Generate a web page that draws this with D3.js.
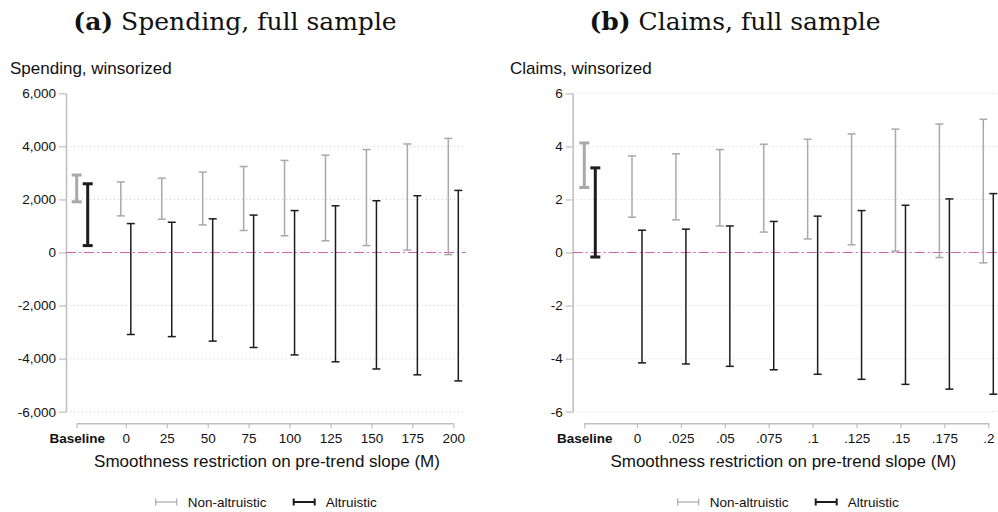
<!DOCTYPE html>
<html>
<head>
<meta charset="utf-8">
<script src="https://cdn.jsdelivr.net/npm/d3@7"></script>
<style>
  html, body { margin: 0; padding: 0; background: #fff; }
  svg { display: block; }
  .sans { font-family: "Liberation Sans", Arial, Helvetica, sans-serif; }
</style>
</head>
<body>
<svg id="chart" width="998" height="512"></svg>
<script>
// ---- Data -------------------------------------------------------------
// Category labels along the x axis (first entry is the baseline estimate)
const spendingTickLabels = ["Baseline", "0", "25", "50", "75", "100", "125", "150", "175", "200"];
const spendingM = [-30, 0, 25, 50, 75, 100, 125, 150, 175, 200];
const spendingYTicks = [-6000, -4000, -2000, 0, 2000, 4000, 6000];

// Confidence-set bounds, spending
const spendingNonAltLo = [1910, 1380, 1255, 1040, 830, 630, 440, 260, 90, -80];
const spendingNonAltHi = [2920, 2660, 2800, 3030, 3240, 3470, 3670, 3880, 4090, 4300];
const spendingAltLo = [260, -3090, -3170, -3340, -3580, -3860, -4120, -4390, -4610, -4840];
const spendingAltHi = [2590, 1090, 1140, 1270, 1410, 1580, 1760, 1950, 2140, 2340];

const claimsTickLabels = ["Baseline", "0", ".025", ".05", ".075", ".1", ".125", ".15", ".175", ".2"];
const claimsM = [-0.03, 0, 0.025, 0.05, 0.075, 0.1, 0.125, 0.15, 0.175, 0.2];
const claimsYTicks = [-6, -4, -2, 0, 2, 4, 6];

// Confidence-set bounds, claims
const claimsNonAltLo = [2.45, 1.33, 1.23, 1.00, 0.77, 0.51, 0.29, 0.05, -0.19, -0.39];
const claimsNonAltHi = [4.13, 3.64, 3.72, 3.88, 4.08, 4.27, 4.47, 4.65, 4.84, 5.02];
const claimsAltLo = [-0.17, -4.16, -4.20, -4.29, -4.42, -4.59, -4.78, -4.97, -5.15, -5.34];
const claimsAltHi = [3.19, 0.84, 0.88, 1.00, 1.17, 1.37, 1.58, 1.78, 2.02, 2.22];

const seriesNames = ["Non-altruistic", "Altruistic"];

// ---- Styling ----------------------------------------------------------
const GRAY = "#a9a9a9";
const DARK = "#1c1c1c";
const AXIS = "#bdbdbd";
const GRID = "#cfcfcf";
const ZERO = "#d862a0";

const locale = d3.formatLocale({ decimal: ".", thousands: ",", grouping: [3], currency: ["$", ""], minus: "-" });

const svg = d3.select("#chart");

function drawPanel(cfg) {
  const g = svg.append("g");

  const y = d3.scaleLinear().domain([cfg.yTicks[0], cfg.yTicks[cfg.yTicks.length - 1]]).range([411.7, 93.3]);
  const x = d3.scaleLinear().domain([cfg.m[0], cfg.m[cfg.m.length - 1]]).range([cfg.x0, cfg.x1]);

  // Panel title: bold tag + serif caption
  const title = g.append("text")
    .attr("x", cfg.titleX).attr("y", 30)
    .attr("text-anchor", "middle")
    .style("font-family", "'DejaVu Serif', 'Liberation Serif', serif")
    .style("font-size", "25px")
    .attr("fill", "#111");
  title.append("tspan").style("font-weight", "bold").text(cfg.tag);
  title.append("tspan").text(" " + cfg.title);

  // Y axis title
  g.append("text").attr("class", "sans")
    .attr("x", cfg.yTitleX).attr("y", 74)
    .style("font-size", "17px").attr("fill", "#111")
    .text(cfg.yTitle);

  // Dotted horizontal gridlines
  g.append("g").selectAll("line")
    .data(cfg.gridTicks)
    .join("line")
    .attr("x1", cfg.plotL).attr("x2", cfg.plotR)
    .attr("y1", d => y(d)).attr("y2", d => y(d))
    .attr("stroke", GRID).attr("stroke-width", 1)
    .attr("stroke-dasharray", "1,3");

  // Y axis
  const fmt = cfg.yFormat;
  const yAxis = g.append("g")
    .attr("transform", `translate(${cfg.plotL},0)`)
    .call(d3.axisLeft(y).tickValues(cfg.yTicks).tickFormat(fmt).tickSize(7).tickSizeOuter(0).tickPadding(3));
  yAxis.select(".domain").attr("stroke", AXIS).attr("stroke-width", 1.5);
  yAxis.selectAll(".tick line").attr("stroke", AXIS).attr("stroke-width", 1.2);
  yAxis.selectAll(".tick text").attr("class", "sans").style("font-size", "13.5px").attr("fill", "#111");

  // X axis, drawn below the plot region
  const xAxis = g.append("g")
    .attr("transform", "translate(0,423.3)")
    .call(d3.axisBottom(x).tickValues(cfg.m).tickFormat((d, i) => cfg.tickLabels[i]).tickSize(5).tickSizeOuter(0).tickPadding(5));
  xAxis.select(".domain").attr("stroke", AXIS).attr("stroke-width", 1.5);
  xAxis.selectAll(".tick line").attr("stroke", AXIS).attr("stroke-width", 1.2);
  xAxis.selectAll(".tick text").attr("class", "sans").style("font-size", "13.5px").attr("fill", "#111")
    .style("font-weight", (d, i) => i === 0 ? "bold" : "normal");

  // X axis title
  g.append("text").attr("class", "sans")
    .attr("x", (cfg.x0 + cfg.x1) / 2 + cfg.xTitleShift).attr("y", 467)
    .attr("text-anchor", "middle")
    .style("font-size", "17px").attr("fill", "#111")
    .text("Smoothness restriction on pre-trend slope (M)");

  // Zero reference line
  g.append("line")
    .attr("x1", cfg.plotL).attr("x2", cfg.plotR)
    .attr("y1", y(0)).attr("y2", y(0))
    .attr("stroke", ZERO).attr("stroke-width", 1.2)
    .attr("stroke-dasharray", "10,3,2,3");

  // Range bars with caps; baseline pair is drawn heavier
  const series = [
    { lo: cfg.nonLo, hi: cfg.nonHi, color: GRAY, off: -5, baseOff: 0 },
    { lo: cfg.altLo, hi: cfg.altHi, color: DARK, off: 5, baseOff: 11 }
  ];
  series.forEach(s => {
    const rows = cfg.m.map((m, i) => ({ m, i, lo: s.lo[i], hi: s.hi[i] }));
    const bars = g.append("g").selectAll("g").data(rows).join("g");
    const px = d => x(d.m) + (d.i === 0 ? s.baseOff : s.off);
    const sw = d => d.i === 0 ? 3 : 1.5;
    const cw = d => d.i === 0 ? 5 : 4;
    bars.append("line")
      .attr("x1", px).attr("x2", px)
      .attr("y1", d => y(d.lo)).attr("y2", d => y(d.hi))
      .attr("stroke", s.color).attr("stroke-width", sw);
    ["lo", "hi"].forEach(k => {
      bars.append("line")
        .attr("x1", d => px(d) - cw(d)).attr("x2", d => px(d) + cw(d))
        .attr("y1", d => y(d[k])).attr("y2", d => y(d[k]))
        .attr("stroke", s.color).attr("stroke-width", sw);
    });
  });

  // Legend
  const leg = g.append("g").attr("transform", `translate(${cfg.legendX},502)`);
  const items = [
    { name: seriesNames[0], color: GRAY, w: 1.2, dx: 0 },
    { name: seriesNames[1], color: DARK, w: 2, dx: 138 }
  ];
  items.forEach(it => {
    const ig = leg.append("g").attr("transform", `translate(${it.dx},0)`);
    ig.append("line").attr("x1", 0).attr("x2", 21).attr("y1", 0).attr("y2", 0)
      .attr("stroke", it.color).attr("stroke-width", it.w);
    [0, 21].forEach(cx => ig.append("line").attr("x1", cx).attr("x2", cx).attr("y1", -3.5).attr("y2", 3.5)
      .attr("stroke", it.color).attr("stroke-width", it.w));
    ig.append("text").attr("class", "sans").attr("x", 32).attr("y", 5)
      .style("font-size", "13.5px").attr("fill", "#111").text(it.name);
  });
}

drawPanel({
  tag: "(a)", title: "Spending, full sample", titleX: 235,
  yTitle: "Spending, winsorized", yTitleX: 10,
  m: spendingM, tickLabels: spendingTickLabels,
  yTicks: spendingYTicks, gridTicks: [-6000, -4000, -2000, 2000, 4000],
  yFormat: locale.format(","),
  nonLo: spendingNonAltLo, nonHi: spendingNonAltHi, altLo: spendingAltLo, altHi: spendingAltHi,
  plotL: 66, plotR: 466, x0: 76.7, x1: 453.3, xTitleShift: 2,
  legendX: 155.7
});

drawPanel({
  tag: "(b)", title: "Claims, full sample", titleX: 735,
  yTitle: "Claims, winsorized", yTitleX: 510,
  m: claimsM, tickLabels: claimsTickLabels,
  yTicks: claimsYTicks, gridTicks: [-6, -4, -2, 2, 4, 6],
  yFormat: locale.format("d"),
  nonLo: claimsNonAltLo, nonHi: claimsNonAltHi, altLo: claimsAltLo, altHi: claimsAltHi,
  plotL: 572.7, plotR: 1000, x0: 584.3, x1: 988.3, xTitleShift: -3,
  legendX: 677.7
});
</script>
</body>
</html>
